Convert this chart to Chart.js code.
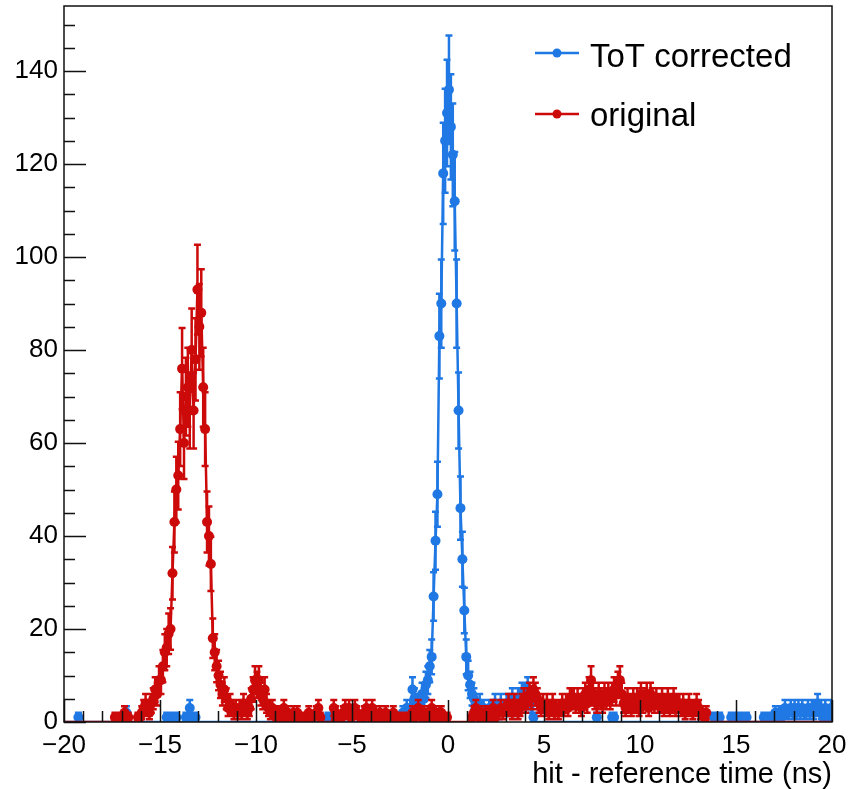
<!DOCTYPE html>
<html lang="en">
<head>
<meta charset="UTF-8" />
<title>hit - reference time</title>
<script src="https://cdn.jsdelivr.net/npm/chart.js"></script>
<style>
  body { margin: 0; background: #fff; }
  #timeCanvas { display: block; }
</style>
</head>
<body>
<canvas id="timeCanvas" width="850" height="789"></canvas>
<script>
// 400 bins of 0.1 ns from -20 to 20 ns, one row per ns
const binLow = -20;
const binWidth = 0.1;

const totCorrected = [
  0,0,0,0,0,0,0,1,0,0,
  0,0,0,0,0,0,0,0,0,0,
  0,0,0,0,0,0,0,0,0,0,
  0,0,2,0,0,0,0,0,0,0,
  0,0,0,0,0,0,0,0,0,0,
  0,0,0,1,1,1,0,1,1,0,
  0,0,0,1,1,3,1,0,1,0,
  0,0,0,0,0,0,0,0,0,0,
  0,0,0,0,0,0,0,0,0,0,
  0,0,0,0,0,0,0,0,0,0,
  0,0,0,0,0,0,0,0,0,0,
  0,0,0,0,0,0,0,0,0,0,
  0,0,0,0,0,0,0,0,1,0,
  0,0,0,0,0,0,0,1,0,0,
  0,0,0,0,0,0,0,0,0,0,
  0,0,0,0,0,0,0,0,0,0,
  0,0,0,0,0,0,0,0,0,0,
  0,0,0,0,0,1,2,1,3,2,
  3,7,5,4,3,4,6,5,8,9,
  12,14,27,39,49,83,90,118,125,131,
  136,128,122,112,90,67,46,35,24,14,
  10,8,6,5,4,3,4,2,3,2,
  2,3,1,3,4,3,2,4,3,3,
  4,3,4,5,4,3,5,5,6,6,
  6,7,5,4,1,0,0,0,0,0,
  0,0,0,0,0,0,0,0,0,0,
  0,0,0,0,0,0,0,0,0,0,
  0,0,0,0,0,0,0,1,0,0,
  0,0,0,0,0,1,1,0,0,0,
  0,0,0,0,0,0,0,0,0,0,
  0,0,0,0,0,0,0,0,0,0,
  0,0,0,0,0,0,0,0,0,0,
  0,0,0,0,0,0,0,0,0,0,
  0,0,0,0,0,0,0,0,1,1,
  1,1,0,0,0,0,0,1,1,1,
  1,1,0,1,1,1,0,0,0,0,
  0,0,0,0,1,1,0,1,1,1,
  2,1,2,1,2,3,2,2,3,2,
  3,2,3,2,3,2,2,3,2,3,
  2,3,4,3,2,1,3,2,1,3
];

const original = [
  0,0,0,0,0,0,0,0,0,0,
  0,0,0,0,0,0,0,0,0,0,
  0,0,0,0,0,0,1,1,1,0,
  1,2,1,1,0,0,0,0,1,1,
  2,3,4,3,2,4,5,7,6,9,
  9,12,15,16,19,20,32,43,50,53,
  63,76,60,70,72,67,80,67,78,93,
  85,88,72,63,43,40,34,18,15,12,
  10,8,6,7,5,3,4,3,2,3,
  2,3,2,4,3,2,3,5,7,9,
  8,9,6,5,7,4,3,2,3,2,
  1,2,1,2,3,1,2,1,0,2,
  1,2,0,1,1,0,0,2,1,0,
  0,2,3,1,0,0,0,0,0,0,
  3,2,1,0,1,2,3,2,3,1,
  2,3,2,0,1,1,2,3,2,1,
  3,2,1,1,2,1,1,2,1,1,
  1,2,1,1,1,0,1,1,0,1,
  1,2,1,2,3,2,1,2,1,2,
  2,3,1,2,1,2,2,1,1,1,
  0,0,0,0,0,0,0,0,0,0,
  0,0,1,2,3,2,1,2,1,2,
  2,1,2,3,1,2,2,3,2,3,
  3,4,3,2,4,3,2,3,4,5,
  4,5,6,5,7,6,5,4,3,4,
  3,4,2,3,4,2,3,2,3,4,
  3,4,3,5,5,5,4,5,4,3,
  5,6,4,7,9,6,5,4,6,5,
  4,6,5,6,5,6,7,6,8,9,
  6,4,3,5,4,3,5,4,5,3,
  6,4,5,6,3,6,5,4,5,4,
  4,5,3,4,5,3,4,5,3,4,
  4,3,4,2,3,4,3,2,3,4,
  3,2,2,1,2,0,0,0,0,0,
  0,0,0,0,0,0,0,0,0,0,
  0,0,0,0,0,0,0,0,0,0,
  0,0,0,0,0,0,0,0,0,0,
  0,0,0,0,0,0,0,0,0,0,
  0,0,0,0,0,0,0,0,0,0,
  0,0,0,0,0,0,0,0,0,0
];

const seriesNames = ["ToT corrected", "original"];
const xTickValues = [-20, -15, -10, -5, 0, 5, 10, 15, 20];
const yTickValues = [0, 20, 40, 60, 80, 100, 120, 140];
const xTitle = "hit - reference time (ns)";

const blue = "#1f78e3";
const red = "#cc0a0a";
const fontFamily = "'Liberation Sans', Arial, sans-serif";

function toPoints(counts) {
  return counts.map((n, i) => ({ x: binLow + (i + 0.5) * binWidth, y: n }));
}

// vertical sqrt(N) error bars with small caps, drawn right after each dataset
const errorBars = {
  id: "errorBars",
  afterDatasetDraw(chart, args) {
    const ds = chart.data.datasets[args.index];
    const yScale = chart.scales.y;
    const a = chart.chartArea;
    const ctx = chart.ctx;
    ctx.save();
    ctx.beginPath();
    ctx.rect(a.left, a.top - 2, a.right - a.left, a.bottom - a.top + 2);
    ctx.clip();
    ctx.strokeStyle = ds.borderColor;
    ctx.lineWidth = 2.5;
    ctx.beginPath();
    args.meta.data.forEach((pt, i) => {
      const n = ds.data[i].y;
      if (n <= 0) return;
      const err = Math.sqrt(n);
      const yTop = yScale.getPixelForValue(n + err);
      const yBot = yScale.getPixelForValue(Math.max(0, n - err));
      ctx.moveTo(pt.x, yTop); ctx.lineTo(pt.x, yBot);
      ctx.moveTo(pt.x - 3.5, yTop); ctx.lineTo(pt.x + 3.5, yTop);
      ctx.moveTo(pt.x - 3.5, yBot); ctx.lineTo(pt.x + 3.5, yBot);
    });
    ctx.stroke();
    ctx.restore();
  }
};

// ROOT style frame with inward ticks
const rootFrame = {
  id: "rootFrame",
  afterDatasetsDraw(chart) {
    const { ctx, chartArea: a, scales: { x, y } } = chart;
    ctx.save();
    ctx.strokeStyle = "#111";
    ctx.lineWidth = 1.5;
    ctx.beginPath();
    for (let v = 0; v <= y.max; v += 5) {
      const py = Math.round(y.getPixelForValue(v)) + 0.5;
      const len = v % 20 === 0 ? 22 : 11;
      ctx.moveTo(a.left, py); ctx.lineTo(a.left + len, py);
    }
    for (let v = x.min; v <= x.max; v += 1) {
      const px = Math.round(x.getPixelForValue(v)) + 0.5;
      const len = v % 5 === 0 ? 22 : 11;
      ctx.moveTo(px, a.bottom); ctx.lineTo(px, a.bottom - len);
    }
    ctx.stroke();
    ctx.strokeRect(a.left, a.top, a.right - a.left, a.bottom - a.top);
    ctx.restore();
  }
};

// legend in the upper right corner, line with marker like ROOT
const rootLegend = {
  id: "rootLegend",
  afterDraw(chart) {
    const ctx = chart.ctx;
    const rows = [
      { name: seriesNames[0], color: blue, y: 53, base: 67 },
      { name: seriesNames[1], color: red, y: 114, base: 126 }
    ];
    ctx.save();
    rows.forEach(r => {
      ctx.strokeStyle = r.color;
      ctx.fillStyle = r.color;
      ctx.lineWidth = 2.5;
      ctx.beginPath();
      ctx.moveTo(535, r.y); ctx.lineTo(579, r.y);
      ctx.stroke();
      ctx.beginPath();
      ctx.arc(557, r.y, 4.5, 0, Math.PI * 2);
      ctx.fill();
      ctx.fillStyle = "#000";
      ctx.font = "33px " + fontFamily;
      ctx.textBaseline = "alphabetic";
      ctx.textAlign = "left";
      ctx.fillText(r.name, 590, r.base);
    });
    ctx.restore();
  }
};

const datasetBase = {
  borderWidth: 2.5,
  tension: 0,
  fill: false,
  showLine: true,
  pointRadius: c => (c.raw && c.raw.y > 0 ? 5 : 0),
  pointHoverRadius: 0,
  pointBorderWidth: 0
};

new Chart(document.getElementById("timeCanvas"), {
  type: "line",
  data: {
    datasets: [
      Object.assign({}, datasetBase, {
        label: seriesNames[0],
        data: toPoints(totCorrected),
        borderColor: blue,
        backgroundColor: blue,
        order: 2
      }),
      Object.assign({}, datasetBase, {
        label: seriesNames[1],
        data: toPoints(original),
        borderColor: red,
        backgroundColor: red,
        order: 1
      })
    ]
  },
  options: {
    responsive: false,
    animation: false,
    events: [],
    layout: { padding: { left: 0, right: 18, top: 6, bottom: 0 } },
    scales: {
      x: {
        type: "linear",
        min: -20,
        max: 20,
        afterBuildTicks: s => { s.ticks = xTickValues.map(v => ({ value: v })); },
        afterFit: s => { s.height = 67; s.paddingLeft = 0; s.paddingRight = 0; },
        grid: { display: false, drawTicks: false },
        border: { display: false },
        ticks: {
          autoSkip: false,
          maxRotation: 0,
          padding: 8,
          color: "#000",
          font: { family: fontFamily, size: 26 },
          callback: v => String(v).replace("-", "\u2212")
        },
        title: {
          display: true,
          text: xTitle,
          align: "end",
          color: "#000",
          font: { family: fontFamily, size: 29, lineHeight: 1 },
          padding: { top: 0, bottom: 0 }
        }
      },
      y: {
        min: 0,
        max: 154,
        afterBuildTicks: s => { s.ticks = yTickValues.map(v => ({ value: v })); },
        afterFit: s => { s.width = 64; s.paddingTop = 0; s.paddingBottom = 0; },
        grid: { display: false, drawTicks: false },
        border: { display: false },
        ticks: {
          padding: 6,
          color: "#000",
          font: { family: fontFamily, size: 26 }
        }
      }
    },
    plugins: {
      legend: { display: false },
      tooltip: { enabled: false }
    }
  },
  plugins: [errorBars, rootFrame, rootLegend]
});
</script>
</body>
</html>
